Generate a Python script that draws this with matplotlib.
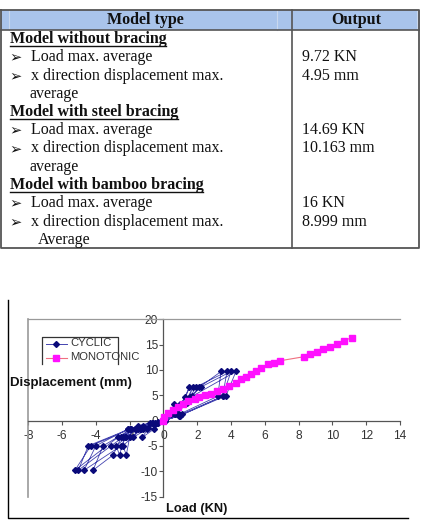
import matplotlib
matplotlib.use("Agg")
import matplotlib.pyplot as plt
from matplotlib.lines import Line2D

plt.rcParams["axes.unicode_minus"] = False

# ---- table contents ----
header = ["Model type", "Output"]
groups = ["Model without bracing", "Model with steel bracing", "Model with bamboo bracing"]
items = ["Load max. average", "x direction displacement max."]
tails = ["average", "average", "Average"]
outputs = [["9.72 KN", "4.95 mm"], ["14.69 KN", "10.163 mm"], ["16 KN", "8.999 mm"]]

# ---- chart data: load (KN) vs displacement (mm) ----
cyclic_load = [
    0.0, 0.35, 0.65, 0.45, 0.0, -0.55, -1.25, -0.9, -0.3, 0.0,
    0.45, 0.95, 0.7, 0.1, -0.95, -1.8, -1.4, -0.5, 0.0,
    0.5, 1.05, 1.54, 1.3, 0.6, 0.0, -1.2, -2.0, -2.2, -2.4, -1.3, -0.4, 0.0,
    0.55, 1.24, 1.74, 1.5, 0.7, 0.05, -1.5, -2.3, -2.6, -2.8, -1.6, -0.5, 0.0,
    0.6, 1.2, 2.13, 3.41, 3.21, 0.9, 0.1, -1.7, -2.5, -2.97, -4.17, -3.57, -1.9, -0.6, 0.0,
    0.7, 1.4, 1.9, 3.76, 3.5, 1.1, 0.1, -1.9, -2.2, -2.5, -4.7, -4.0, -2.1, -0.7, 0.0,
    0.8, 1.6, 2.2, 4.0, 3.5, 1.0, 0.0, -2.1, -2.4, -3.1, -5.04, -4.45, -2.0, -0.8, 0.0,
    0.85, 1.7, 4.29, 3.7, 0.9, 0.0, -1.2, -2.7, -5.24, -4.3, -1.5, -0.3, 0.0,
]
cyclic_disp = [
    0.0, 1.5, 3.2, 1.3, 0.0, -1.65, -3.3, -1.5, -0.5, 0.0,
    1.5, 3.2, 1.4, 0.2, -1.65, -3.3, -1.65, -0.6, 0.0,
    1.5, 3.2, 6.6, 4.6, 1.5, 0.2, -1.65, -3.3, -6.76, -4.97, -1.65, -0.5, 0.0,
    1.5, 3.2, 6.6, 4.5, 1.4, 0.1, -1.65, -3.3, -6.76, -4.97, -1.65, -0.5, 0.0,
    1.5, 3.2, 6.6, 9.7, 4.8, 1.2, 0.0, -1.65, -3.3, -6.76, -9.8, -4.97, -1.65, -0.4, 0.0,
    1.5, 3.4, 6.6, 9.7, 4.8, 1.3, 0.0, -1.65, -3.3, -4.97, -9.8, -4.97, -1.65, -0.4, 0.0,
    1.6, 4.6, 6.6, 9.7, 4.8, 1.0, 0.0, -1.65, -3.3, -4.97, -9.8, -4.97, -1.65, -0.5, 0.0,
    1.5, 4.8, 9.7, 4.9, 0.9, 0.0, -1.0, -3.3, -9.8, -4.97, -1.0, -0.2, 0.0,
]
mono_load = [0.0, 0.05, 0.26, 0.56, 0.85, 1.15, 1.45, 1.84, 2.13, 2.43, 2.82, 3.15, 3.5,
             3.9, 4.29, 4.59, 4.88, 5.18, 5.48, 5.77, 6.17, 6.52, 6.87,
             8.29, 8.69, 9.08, 9.47, 9.88, 10.26, 10.71, 11.15]
mono_disp = [0.0, 0.7, 1.5, 2.1, 2.6, 3.3, 3.8, 4.3, 4.6, 5.0, 5.3, 5.8, 6.3,
             6.8, 7.5, 8.3, 8.7, 9.3, 9.8, 10.3, 11.1, 11.3, 11.8,
             12.6, 13.1, 13.6, 14.1, 14.6, 15.1, 15.8, 16.4]

W, H = 421, 525
fig = plt.figure(figsize=(W / 100, H / 100), dpi=100)

# chart axes, placed in pixel terms
x_l, x_r, y_t, y_b = 28.3, 400.0, 319.3, 496.6
ax = fig.add_axes([x_l / W, 1 - y_b / H, (x_r - x_l) / W, (y_b - y_t) / H])
ax.set_xlim(-8, 14)
ax.set_ylim(-15, 20)

ax.plot(cyclic_load, cyclic_disp, color="#4444b0", lw=0.6, marker="D", ms=3.0,
        mfc="#0a0a7a", mec="#0a0a7a", zorder=3)
ax.plot(mono_load, mono_disp, color="#f07080", lw=0.8, marker="s", ms=3.8,
        mfc="#ff10ff", mec="#ff10ff", zorder=4)

ax.spines["left"].set_position(("data", 0))
ax.spines["bottom"].set_position(("data", 0))
for s in ["left", "bottom"]:
    ax.spines[s].set_color("#555555")
    ax.spines[s].set_linewidth(0.9)
ax.spines["right"].set_visible(False)
ax.spines["top"].set_color("#999999")
ax.spines["top"].set_linewidth(0.9)
ax.axvline(-8, color="#999999", lw=1.2, clip_on=False)

ax.set_xticks(range(-8, 15, 2))
ax.set_yticks(range(-15, 21, 5))
ax.tick_params(axis="both", colors="#555555", labelcolor="#333333", labelsize=8.6,
               length=3, width=0.8, direction="out")
ax.tick_params(axis="x", pad=4)
ax.tick_params(axis="y", pad=1)
for lab in ax.get_xticklabels() + ax.get_yticklabels():
    lab.set_family("Liberation Sans")
ax.patch.set_alpha(0)

# overlay axes in pixel coordinates for the table, frame and labels
ov = fig.add_axes([0, 0, 1, 1], zorder=5)
ov.set_xlim(0, W)
ov.set_ylim(H, 0)
ov.axis("off")
ov.patch.set_alpha(0)

serif = ["Liberation Serif", "DejaVu Sans"]
fs = 11.5

# header
ov.add_patch(plt.Rectangle((0.5, 10), 419, 19.5, facecolor="#a9c4eb", edgecolor="none"))
for xv in [8.5, 277, 416.5]:
    ov.plot([xv, xv], [10, 29.5], color="#c9d8ee", lw=0.8)
lc = "#555555"
ov.plot([0.8, 419.3, 419.3, 0.8, 0.8], [10, 10, 248.3, 248.3, 10], color=lc, lw=1.3)
ov.plot([0.8, 419.3], [29.5, 29.5], color=lc, lw=1.2)
ov.plot([292, 292], [10, 248.3], color=lc, lw=1.2)
ov.text(145, 20, header[0], ha="center", va="center", family=serif, fontsize=fs,
        fontweight="bold", color="#111111")
ov.text(356, 20, header[1], ha="center", va="center", family=serif, fontsize=fs,
        fontweight="bold", color="#111111")

fig.canvas.draw()
renderer = fig.canvas.get_renderer()
inv = ov.transData.inverted()

row_y = 39.0
step = 18.25
for g in range(3):
    t = ov.text(9.5, row_y, groups[g], ha="left", va="center", family=serif,
                fontsize=fs, fontweight="bold", color="#111111")
    bb = t.get_window_extent(renderer)
    (x0, _), (x1, _) = inv.transform([[bb.x0, bb.y0], [bb.x1, bb.y0]])
    ov.plot([x0, x1], [row_y + 6.8, row_y + 6.8], color="#111111", lw=1.0)
    row_y += step
    for k in range(2):
        ov.text(9.5, row_y, "\u27a2", ha="left", va="center", family=["DejaVu Sans"],
                fontsize=10.5, color="#111111")
        ov.text(31, row_y, items[k], ha="left", va="center", family=serif,
                fontsize=fs, color="#111111")
        ov.text(302, row_y, outputs[g][k], ha="left", va="center", family=serif,
                fontsize=fs, color="#111111")
        row_y += step
    ov.text(30 if g < 2 else 38, row_y, tails[g], ha="left", va="center", family=serif,
            fontsize=fs, color="#111111")
    row_y += step

# chart outer frame
ov.plot([8.3, 8.3, 408.3], [300, 518.3, 518.3], color="black", lw=1.0)

# axis titles
ov.text(10, 383, "Displacement (mm)", ha="left", va="center", family="Liberation Sans",
        fontsize=9.5, fontweight="bold", color="#111111")
ov.text(197, 509, "Load (KN)", ha="center", va="center", family="Liberation Sans",
        fontsize=9.3, fontweight="bold", color="#111111")

# legend
ov.plot([42.3, 42.3, 118.3, 118.3], [364, 336.7, 336.7, 364], color="#333333", lw=0.9)
ov.add_line(Line2D([45.7, 66.7], [343.5, 343.5], color="#4444b0", lw=0.7))
ov.add_line(Line2D([56.2], [343.5], marker="D", ms=3.0, color="#0a0a7a", lw=0))
ov.add_line(Line2D([45.7, 66.7], [357.5, 357.5], color="#f07080", lw=0.8))
ov.add_line(Line2D([56.2], [357.5], marker="s", ms=3.8, color="#ff10ff", lw=0))
ov.text(70, 343.5, "CYCLIC", ha="left", va="center", family="Liberation Sans",
        fontsize=8.1, color="#333333")
ov.text(70, 357.5, "MONOTONIC", ha="left", va="center", family="Liberation Sans",
        fontsize=8.1, color="#333333")

fig.savefig("out.png", dpi=100)
